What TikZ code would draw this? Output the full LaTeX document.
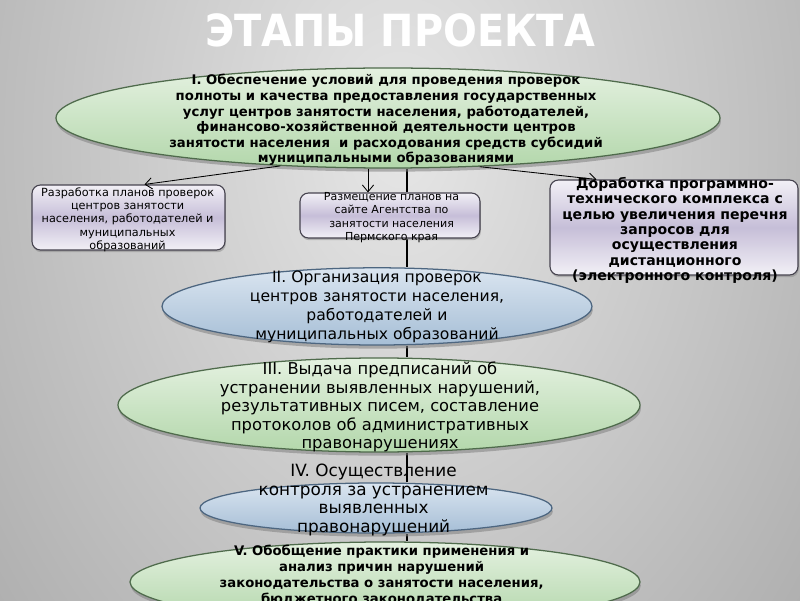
\documentclass[tikz,border=0pt]{standalone}
\usepackage{fontspec}
\setmainfont{DejaVu Sans}
\newfontfamily\titlefont{DejaVu Sans Condensed}
\usetikzlibrary{arrows.meta,positioning,shapes.geometric,shadows,backgrounds}
\pgfdeclarelayer{slide}
\pgfsetlayers{slide,background,main}
\definecolor{slidegray}{HTML}{8E8E8E}
\definecolor{slidelight}{HTML}{E6E6E6}
\definecolor{leafgreen}{HTML}{B3D7AB}
\definecolor{leaflight}{HTML}{E4F1E0}
\definecolor{leafedge}{HTML}{4F6B4C}
\definecolor{skyblue}{HTML}{A6BED6}
\definecolor{skylight}{HTML}{DAE5F0}
\definecolor{skyedge}{HTML}{4D6680}
\definecolor{lilac}{HTML}{C6BED8}
\definecolor{lilaclight}{HTML}{F2F0F6}
\definecolor{boxedge}{HTML}{46434F}
\newcommand{\fs}[2]{\fontsize{#1}{#2}\selectfont}
\tikzset{
  stageshape/.style={
    ellipse, line width=0.9pt, inner sep=0pt,
    drop shadow={opacity=0.55, shadow xshift=0.6pt, shadow yshift=-2.6pt}
  },
  greenstage/.style={stageshape, draw=leafedge, top color=leaflight, bottom color=leafgreen},
  bluestage/.style={stageshape, draw=skyedge, top color=skylight, bottom color=skyblue},
  taskbox/.style={
    rectangle, rounded corners=6pt, draw=boxedge, line width=0.8pt,
    top color=lilaclight, bottom color=lilaclight, middle color=lilac, inner sep=0pt,
    drop shadow={opacity=0.45, shadow xshift=0.6pt, shadow yshift=-1.6pt}
  },
  stagetext/.style={align=center, inner sep=0pt, text=black},
  thinarrow/.style={-{Straight Barb[length=1.7mm,width=2.8mm]}, line width=0.6pt},
  spine/.style={line width=1.5pt},
}

\begin{document}
\begin{tikzpicture}
  \useasboundingbox (0,0) rectangle (20,15);
  \begin{pgfonlayer}{slide}
    \fill[slidegray] (0,0) rectangle (20,15);
    \shade[inner color=slidelight, outer color=slidegray] (10,11.5) ellipse (21cm and 30cm);
  \end{pgfonlayer}

  \node[text=white, font=\titlefont\bfseries\fs{31.5}{32}] (title) at (10,14.25) {ЭТАПЫ ПРОЕКТА};

  % stages
  \node[greenstage, minimum width=16.6cm, minimum height=2.5cm] (e1) at (9.7,12.05) {};
  \node[bluestage, minimum width=10.75cm, minimum height=1.93cm] (e2) at (9.425,7.34) {};
  \node[greenstage, minimum width=13.05cm, minimum height=2.35cm] (e3) at (9.475,4.875) {};
  \node[bluestage, minimum width=8.8cm, minimum height=1.25cm] (e4) at (9.4,2.3) {};
  \node[greenstage, minimum width=12.75cm, minimum height=2cm] (e5) at (9.625,0.45) {};

  % tasks of stage I
  \node[taskbox, minimum width=4.825cm, minimum height=1.625cm] (lbox) at (3.2125,9.5625) {};
  \node[taskbox, minimum width=4.5cm, minimum height=1.125cm] (mbox) at (9.75,9.6125) {};
  \node[taskbox, minimum width=6.2cm, minimum height=2.375cm] (rbox) at (16.85,9.3125) {};

  \node[stagetext, font=\bfseries\fs{9.4}{11.1}] (t1) at (9.65,12.0) {I. Обеспечение условий для проведения проверок\\
    полноты и качества предоставления государственных\\
    услуг центров занятости населения, работодателей,\\
    финансово-хозяйственной деятельности центров\\
    занятости населения~ и расходования средств субсидий\\
    муниципальными образованиями};
  \node[stagetext, font=\fs{11.1}{13.5}] (t2) at (9.425,7.325) {II. Организация проверок\\
    центров занятости населения,\\ работодателей и\\ муниципальных образований};
  \node[stagetext, font=\fs{11.6}{13.2}] (t3) at (9.5,4.825) {III. Выдача предписаний об\\
    устранении выявленных нарушений,\\ результативных писем, составление\\
    протоколов об административных\\ правонарушениях};
  \node[stagetext, font=\fs{12}{13.5}] (t4) at (9.34,2.5) {IV. Осуществление\\
    контроля за устранением\\ выявленных\\ правонарушений};
  \node[stagetext, font=\bfseries\fs{9.4}{11.2}] (t5) at (9.54,0.62) {V. Обобщение практики применения и\\
    анализ причин нарушений\\ законодательства о занятости населения,\\ бюджетного законодательства};

  \node[stagetext, font=\fs{8}{9.5}] (ltext) at (3.19,9.51) {Разработка планов проверок\\
    центров занятости\\ населения, работодателей и\\ муниципальных\\ образований};
  \node[stagetext, font=\fs{7.85}{9.6}] (mtext) at (9.79,9.56) {Размещение планов на\\
    сайте Агентства по\\ занятости населения\\ Пермского края};
  \node[stagetext, font=\bfseries\fs{10}{11}] (rtext) at (16.875,9.24) {Доработка программно-\\
    технического комплекса с\\ целью увеличения перечня\\ запросов для\\
    осуществления\\ дистанционного\\ (электронного контроля)};

  % connectors
  \coordinate (spinex) at (10.175,0);
  \begin{scope}[on background layer]
    \foreach \a/\b in {e1/mbox,mbox/e2,e2/e3,e3/e4,e4/e5}
      \draw[spine] (\a.south -| spinex) -- (\b.north -| spinex);
  \end{scope}
  \draw[thinarrow] (e1.204) -- ([xshift=0.4cm]lbox.north);
  \draw[thinarrow] ([xshift=-0.55cm]mbox.north |- e1.south) -- ([xshift=-0.55cm]mbox.north);
  \draw[thinarrow] (e1.332) -- ([xshift=1.175cm]rbox.north west);
\end{tikzpicture}
\end{document}
